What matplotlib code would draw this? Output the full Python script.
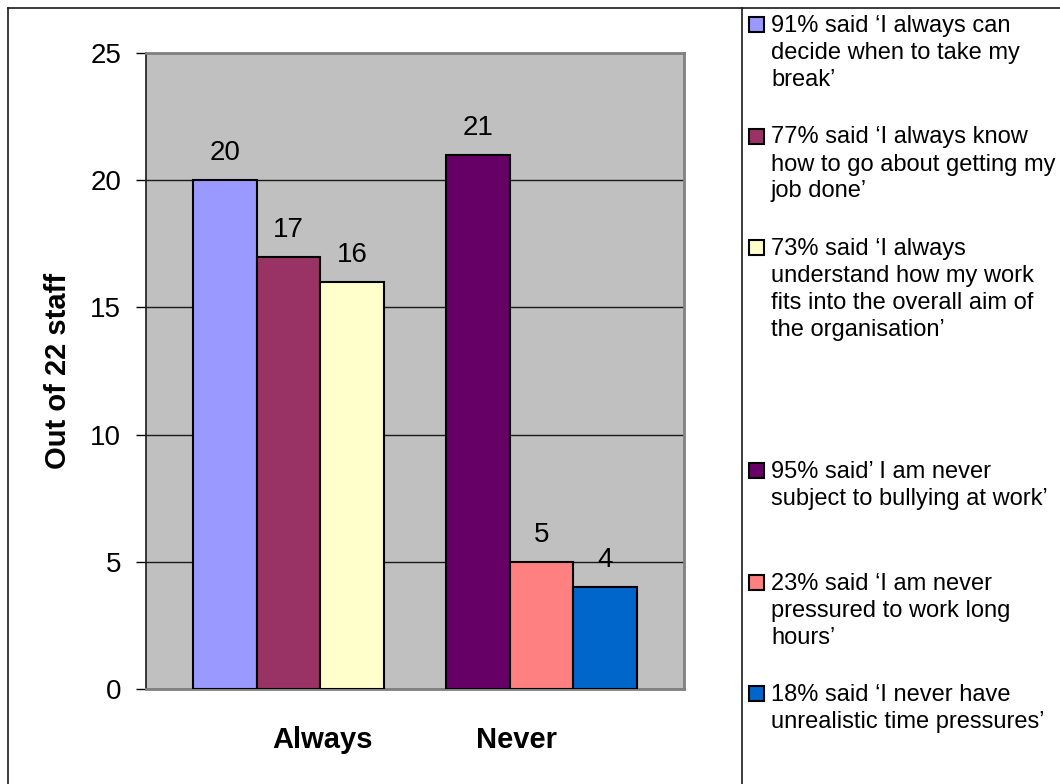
from __future__ import annotations

import matplotlib

matplotlib.use("Agg")

import matplotlib.pyplot as plt
import matplotlib.transforms as mtransforms
from matplotlib.lines import Line2D
from matplotlib.patches import Rectangle
import numpy as np

FIG_W, FIG_H, DPI = 1060, 784, 100

categories = ["Always", "Never"]
always_counts = [20, 17, 16]
never_counts = [21, 5, 4]
always_colors = ["#9999FF", "#993366", "#FFFFCC"]
never_colors = ["#660066", "#FF8080", "#0066CC"]
legend_labels = [
    "91% said \u2018I always can\ndecide when to take my\nbreak\u2019",
    "77% said \u2018I always know\nhow to go about getting my\njob done\u2019",
    "73% said \u2018I always\nunderstand how my work\nfits into the overall aim of\nthe organisation\u2019",
    "95% said\u2019 I am never\nsubject to bullying at work\u2019",
    "23% said \u2018I am never\npressured to work long\nhours\u2019",
    "18% said \u2018I never have\nunrealistic time pressures\u2019",
]
y_label = "Out of 22 staff"

plt.rcParams["font.family"] = ["Liberation Sans", "DejaVu Sans"]


def fig_xy(x_px: float, y_px: float) -> tuple[float, float]:
    """Pixel position (top-left origin) to figure fraction."""
    return x_px / FIG_W, 1 - y_px / FIG_H


def draw_frame(fig) -> None:
    kw = dict(color="#1a1a1a", lw=1.2, transform=fig.transFigure)
    x0, y0 = fig_xy(8, 8)
    fig.add_artist(Line2D([x0, x0], [y0, 0], **kw))
    fig.add_artist(Line2D([x0, 1], [y0, y0], **kw))
    xs, _ = fig_xy(742, 0)
    fig.add_artist(Line2D([xs, xs], [y0, 0], **kw))


def draw_legend(fig, colors: list[str]) -> None:
    # one empty slot between the "always" and "never" entries
    slots = [0, 1, 2, 4, 5, 6]
    for label, color, slot in zip(legend_labels, colors, slots):
        baseline = 32 + slot * 111.5
        sx, sy = fig_xy(749, baseline)
        w, h = 15 / FIG_W, 15 / FIG_H
        fig.add_artist(
            Rectangle((sx, sy), w, h, facecolor=color, edgecolor="black",
                      lw=1.5, transform=fig.transFigure)
        )
        for i, line in enumerate(label.split("\n")):
            tx, ty = fig_xy(771, baseline + i * 27)
            fig.text(tx, ty, line, fontsize=17, ha="left", va="baseline")


def main() -> None:
    fig = plt.figure(figsize=(FIG_W / DPI, FIG_H / DPI), dpi=DPI)
    left, bottom = fig_xy(146, 689)
    right, top = fig_xy(684, 53)
    ax = fig.add_axes([left, bottom, right - left, top - bottom])
    ax.set_facecolor("#C0C0C0")

    width = 0.252
    offsets = np.array([-1, 0, 1]) * width
    group_x = np.arange(len(categories))
    for counts, colors, gx in zip([always_counts, never_counts],
                                  [always_colors, never_colors], group_x):
        bars = ax.bar(gx + offsets, counts, width, color=colors,
                      edgecolor="black", linewidth=1.5, zorder=3)
        ax.bar_label(bars, padding=10, fontsize=20)

    ax.set_xlim(-0.563, 1.563)
    ax.set_ylim(0, 25)
    ax.set_yticks(np.arange(0, 26, 5))
    ax.yaxis.grid(True, color="#1a1a1a", lw=1.0, zorder=1)
    ax.set_axisbelow(True)

    ax.set_xticks(group_x, categories, fontsize=21, fontweight="bold")
    ax.tick_params(axis="x", length=0, pad=27)
    shifts = [34.5, -25]
    for lbl, dx in zip(ax.get_xticklabels(), shifts):
        lbl.set_transform(lbl.get_transform()
                          + mtransforms.ScaledTranslation(dx / DPI, 0, fig.dpi_scale_trans))

    ax.tick_params(axis="y", labelsize=20, length=7.2, width=1.0,
                   direction="out", pad=10.8, color="black")

    for side in ["top", "right", "bottom"]:
        ax.spines[side].set_color("#808080")
        ax.spines[side].set_linewidth(2)
    ax.spines["left"].set_color("#1a1a1a")
    ax.spines["left"].set_linewidth(1.2)

    lx, ly = fig_xy(58, 371)
    fig.text(lx, ly, y_label, rotation=90, ha="center", va="center",
             fontsize=21, fontweight="bold")

    draw_frame(fig)
    draw_legend(fig, always_colors + never_colors)

    fig.savefig("out.png", dpi=DPI)
    plt.close(fig)


if __name__ == "__main__":
    main()
